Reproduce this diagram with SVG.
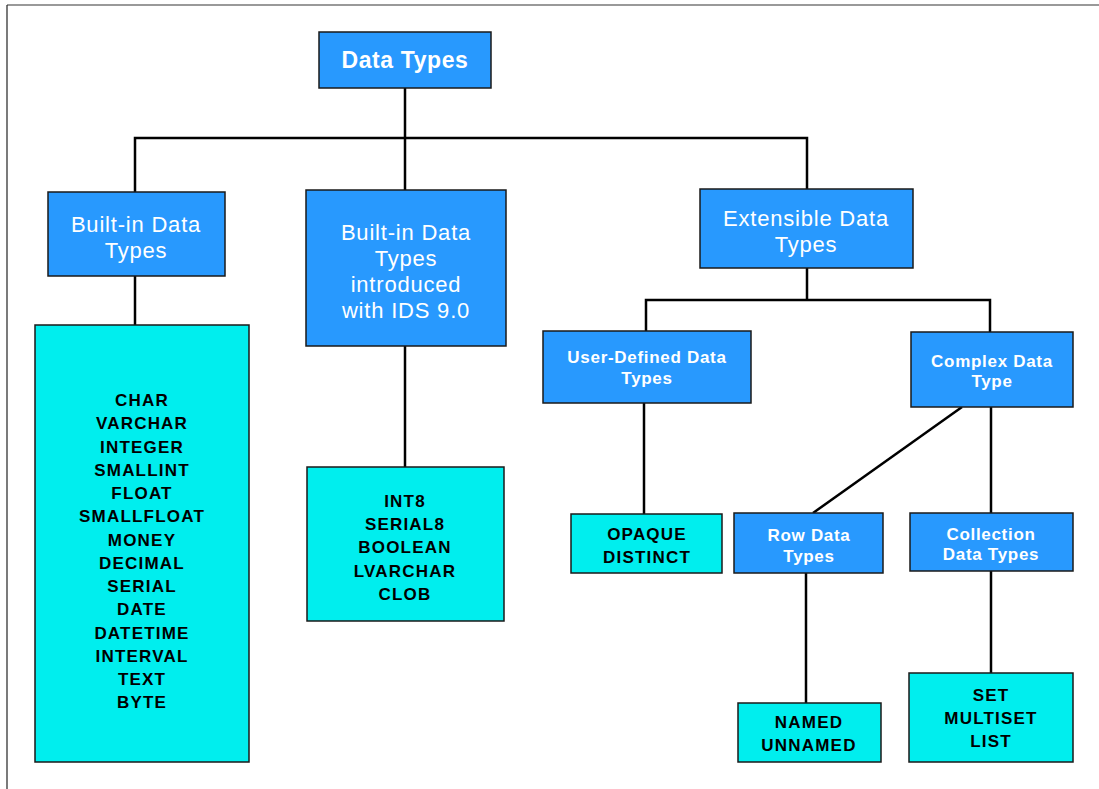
<svg xmlns="http://www.w3.org/2000/svg" width="1099" height="789" viewBox="0 0 1099 789">
  <style>
    .blue { fill: #2899FE; stroke: #1a1a1a; stroke-width: 1.5; }
    .cyan { fill: #00EEEE; stroke: #1a1a1a; stroke-width: 1.5; }
    .t-main { font-family: "Liberation Sans", Arial, sans-serif; font-weight: bold; font-size: 23px; fill: #ffffff; text-anchor: middle; dominant-baseline: central; letter-spacing: 0.6px; }
    .t-big { font-family: "Liberation Sans", Arial, sans-serif; font-size: 22px; fill: #ffffff; text-anchor: middle; dominant-baseline: central; letter-spacing: 0.8px; }
    .t-sub { font-family: "Liberation Sans", Arial, sans-serif; font-weight: bold; font-size: 17px; fill: #ffffff; text-anchor: middle; dominant-baseline: central; letter-spacing: 0.7px; }
    .t-leaf { font-family: "Liberation Sans", Arial, sans-serif; font-weight: bold; font-size: 17px; fill: #000000; text-anchor: middle; dominant-baseline: central; letter-spacing: 1.2px; }
    .wire { fill: none; stroke: #000000; stroke-width: 2.5; }
  </style>

  <rect x="0" y="0" width="1099" height="789" fill="#ffffff"/>
  <!-- page frame -->
  <line x1="7" y1="5" x2="1099" y2="5" stroke="#777777" stroke-width="1.5"/>
  <line x1="7" y1="5" x2="7" y2="789" stroke="#222222" stroke-width="1.2"/>

  <g id="connectors">
    <path class="wire" d="M405 88 V138 M135 192 V138 H807 V189 M405 138 V190"/>
    <path class="wire" d="M135 276 V325"/>
    <path class="wire" d="M405 346 V467"/>
    <path class="wire" d="M807 268 V300 M646 331 V300 H990 V332"/>
    <path class="wire" d="M644 403 V514"/>
    <path class="wire" d="M962 407 L813 513"/>
    <path class="wire" d="M991 407 V513"/>
    <path class="wire" d="M806 573 V703"/>
    <path class="wire" d="M991 571 V673"/>
  </g>

  <g id="data-types">
    <rect class="blue" x="319" y="32" width="172" height="56"/>
    <text class="t-main" x="405" y="60">Data Types</text>
  </g>

  <g id="builtin">
    <rect class="blue" x="48" y="192" width="177" height="84"/>
    <text class="t-big" x="136" y="224">Built-in Data</text>
    <text class="t-big" x="136" y="250">Types</text>
  </g>

  <g id="builtin-ids9">
    <rect class="blue" x="306" y="190" width="200" height="156"/>
    <text class="t-big" x="406" y="232">Built-in Data</text>
    <text class="t-big" x="406" y="258">Types</text>
    <text class="t-big" x="406" y="284">introduced</text>
    <text class="t-big" x="406" y="310">with IDS 9.0</text>
  </g>

  <g id="extensible">
    <rect class="blue" x="700" y="189" width="213" height="79"/>
    <text class="t-big" x="806" y="218">Extensible Data</text>
    <text class="t-big" x="806" y="244">Types</text>
  </g>

  <g id="builtin-list">
    <rect class="cyan" x="35" y="325" width="214" height="437"/>
    <text class="t-leaf" x="142" y="400">CHAR</text>
    <text class="t-leaf" x="142" y="423">VARCHAR</text>
    <text class="t-leaf" x="142" y="447">INTEGER</text>
    <text class="t-leaf" x="142" y="470">SMALLINT</text>
    <text class="t-leaf" x="142" y="493">FLOAT</text>
    <text class="t-leaf" x="142" y="516">SMALLFLOAT</text>
    <text class="t-leaf" x="142" y="540">MONEY</text>
    <text class="t-leaf" x="142" y="563">DECIMAL</text>
    <text class="t-leaf" x="142" y="586">SERIAL</text>
    <text class="t-leaf" x="142" y="609">DATE</text>
    <text class="t-leaf" x="142" y="633">DATETIME</text>
    <text class="t-leaf" x="142" y="656">INTERVAL</text>
    <text class="t-leaf" x="142" y="679">TEXT</text>
    <text class="t-leaf" x="142" y="702">BYTE</text>
  </g>

  <g id="ids9-list">
    <rect class="cyan" x="307" y="467" width="197" height="154"/>
    <text class="t-leaf" x="405" y="501">INT8</text>
    <text class="t-leaf" x="405" y="524">SERIAL8</text>
    <text class="t-leaf" x="405" y="547">BOOLEAN</text>
    <text class="t-leaf" x="405" y="571">LVARCHAR</text>
    <text class="t-leaf" x="405" y="594">CLOB</text>
  </g>

  <g id="user-defined">
    <rect class="blue" x="543" y="331" width="208" height="72"/>
    <text class="t-sub" x="647" y="357">User-Defined Data</text>
    <text class="t-sub" x="647" y="378">Types</text>
  </g>

  <g id="complex">
    <rect class="blue" x="911" y="332" width="162" height="75"/>
    <text class="t-sub" x="992" y="361">Complex Data</text>
    <text class="t-sub" x="992" y="381">Type</text>
  </g>

  <g id="opaque-distinct">
    <rect class="cyan" x="571" y="514" width="151" height="59"/>
    <text class="t-leaf" x="647" y="534">OPAQUE</text>
    <text class="t-leaf" x="647" y="557">DISTINCT</text>
  </g>

  <g id="row">
    <rect class="blue" x="734" y="513" width="149" height="60"/>
    <text class="t-sub" x="809" y="535">Row Data</text>
    <text class="t-sub" x="809" y="556">Types</text>
  </g>

  <g id="collection">
    <rect class="blue" x="910" y="513" width="163" height="58"/>
    <text class="t-sub" x="991" y="534">Collection</text>
    <text class="t-sub" x="991" y="554">Data Types</text>
  </g>

  <g id="named-unnamed">
    <rect class="cyan" x="738" y="703" width="143" height="59"/>
    <text class="t-leaf" x="809" y="722">NAMED</text>
    <text class="t-leaf" x="809" y="745">UNNAMED</text>
  </g>

  <g id="set-multiset-list">
    <rect class="cyan" x="909" y="673" width="164" height="89"/>
    <text class="t-leaf" x="991" y="695">SET</text>
    <text class="t-leaf" x="991" y="718">MULTISET</text>
    <text class="t-leaf" x="991" y="741">LIST</text>
  </g>
</svg>
